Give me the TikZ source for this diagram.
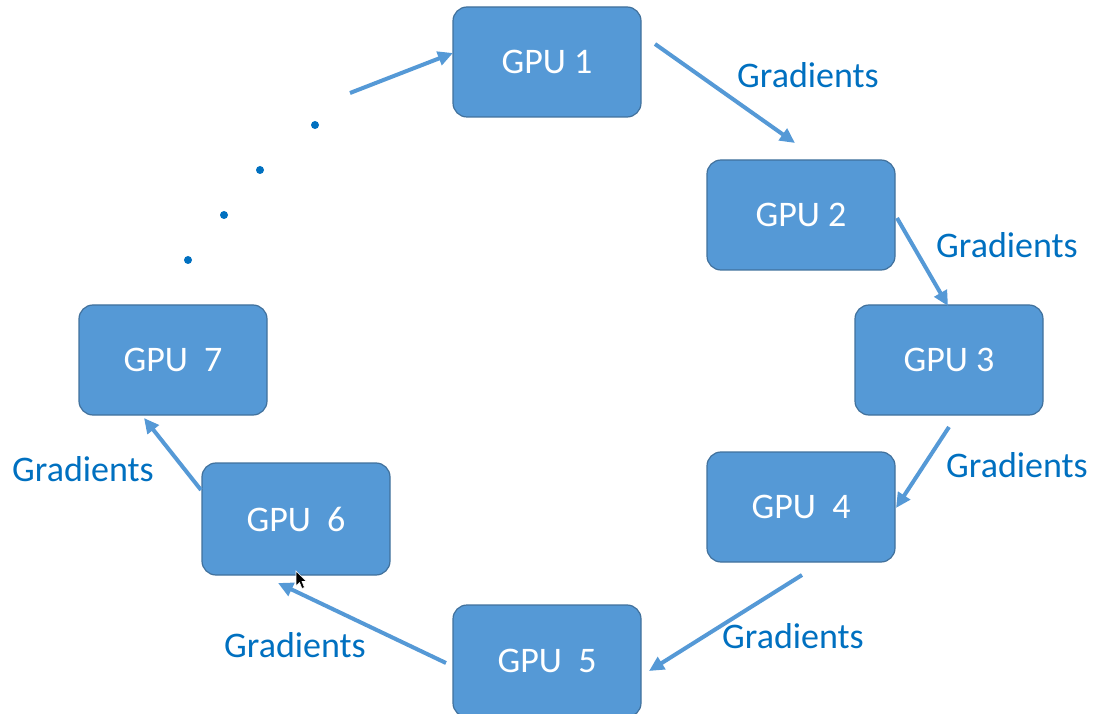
\documentclass[tikz,border=0pt]{standalone}
\usepackage{fontspec}
\setmainfont{Carlito}
\usetikzlibrary{arrows.meta}
\definecolor{boxfill}{HTML}{5599D6}
\definecolor{boxline}{HTML}{41719C}
\definecolor{labelblue}{HTML}{0070C0}
\tikzset{
  gpu/.style={draw=boxline, line width=1.2pt, fill=boxfill, rounded corners=14pt,
    minimum width=188pt, minimum height=110pt, inner sep=0pt,
    text=white, font=\fontsize{36}{36}\selectfont},
  flow/.style={draw=boxfill, line width=4pt, -{Triangle[length=15pt,width=14pt]}},
  grad/.style={text=labelblue, font=\fontsize{36}{36}\selectfont, inner sep=0pt},
  dotmark/.style={fill=labelblue, draw=none},
}
\begin{document}
\begin{tikzpicture}[x=1pt, y=-1pt]
\useasboundingbox (0,0) rectangle (1104,714);

% GPU boxes around the ring
\node[gpu] (g1) at (547,62) {GPU 1};
\node[gpu] (g2) at (801,215) {GPU 2};
\node[gpu] (g3) at (949,360) {GPU 3};
\node[gpu] (g4) at (801,507) {GPU\ \ 4};
\node[gpu, minimum height=112pt] (g5) at (547,661) {GPU\ \ 5};
\node[gpu, minimum height=112pt] (g6) at (296,519) {GPU\ \ 6};
\node[gpu] (g7) at (173,360) {GPU\ \ 7};

% arrow end points
\coordinate (a0s) at (350,93);   \coordinate (a0e) at (453,53);
\coordinate (a1s) at (655,44);   \coordinate (a1e) at (795,143);
\coordinate (a2s) at (897,218);  \coordinate (a2e) at (948,306);
\coordinate (a3s) at (949,427);  \coordinate (a3e) at (896,508);
\coordinate (a4s) at (802,575);  \coordinate (a4e) at (649,671);
\coordinate (a5s) at (446,663);  \coordinate (a5e) at (278,583);
\coordinate (a6s) at (201,490);  \coordinate (a6e) at (144,418);

\draw[flow] (a0s) -- (a0e);
\draw[flow] (a1s) -- (a1e);
\draw[flow] (a2s) -- (a2e);
\draw[flow] (a3s) -- (a3e);
\draw[flow] (a4s) -- (a4e);
\draw[flow] (a5s) -- (a5e);
\draw[flow] (a6s) -- (a6e);

% labels
\node[grad] (l1) at (808,75) {Gradients};
\node[grad] (l2) at (1007,245) {Gradients};
\node[grad] (l3) at (1017,465) {Gradients};
\node[grad] (l4) at (793,636) {Gradients};
\node[grad] (l5) at (295,645) {Gradients};
\node[grad] (l6) at (83,469) {Gradients};

% ellipsis dots between GPU 7 and GPU 1
\fill[dotmark] (315,125) circle (4pt);
\fill[dotmark] (260,170) circle (4pt);
\fill[dotmark] (224,215) circle (4pt);
\fill[dotmark] (188,260) circle (4pt);

% mouse pointer
\filldraw[fill=black, draw=white, line width=0.6pt]
  (296,571) -- (296,586) -- (299.5,582.5) -- (302,588.5) -- (304.5,587.5)
  -- (302,581.5) -- (306.5,581.5) -- cycle;
\end{tikzpicture}
\end{document}
